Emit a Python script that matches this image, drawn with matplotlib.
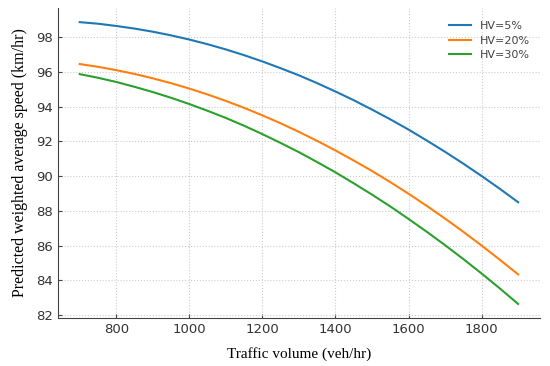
import matplotlib
matplotlib.use("Agg")
import matplotlib.pyplot as plt

# Volumen de tráfico (veh/hr)
volumen = [700, 750, 800, 850, 900, 950, 1000, 1050, 1100, 1150, 1200, 1250, 1300,
           1350, 1400, 1450, 1500, 1550, 1600, 1650, 1700, 1750, 1800, 1850, 1900]

# Velocidad media ponderada predicha (km/hr) para cada % de vehículos pesados
hv_5 = [98.86, 98.77, 98.64, 98.49, 98.31, 98.10, 97.86, 97.59, 97.29, 96.96, 96.60, 96.21, 95.80,
        95.35, 94.87, 94.37, 93.83, 93.27, 92.68, 92.05, 91.40, 90.72, 90.01, 89.27, 88.50]
hv_20 = [96.45, 96.29, 96.10, 95.88, 95.63, 95.35, 95.04, 94.70, 94.33, 93.93, 93.50, 93.04, 92.55,
         92.03, 91.48, 90.90, 90.30, 89.66, 88.99, 88.29, 87.56, 86.80, 86.01, 85.19, 84.35]
hv_30 = [95.87, 95.66, 95.42, 95.14, 94.84, 94.51, 94.15, 93.76, 93.35, 92.90, 92.42, 91.91, 91.38,
         90.81, 90.22, 89.59, 88.94, 88.26, 87.54, 86.80, 86.03, 85.23, 84.40, 83.54, 82.65]

etiquetas = ["HV=5%", "HV=20%", "HV=30%"]
colores = ["#1f77b4", "#ff7f0e", "#2ca02c"]

fig = plt.figure(figsize=(5.5, 3.66), dpi=100)
ax = fig.add_axes([0.105, 0.131, 0.877, 0.847])

for serie, etiqueta, color in zip([hv_5, hv_20, hv_30], etiquetas, colores):
    ax.plot(volumen, serie, color=color, linewidth=1.5, label=etiqueta)

ax.set_yticks([82, 84, 86, 88, 90, 92, 94, 96, 98])
ax.set_xticks([800, 1000, 1200, 1400, 1600, 1800])
ax.grid(True, linestyle=":", color="#cccccc", linewidth=0.8)
ax.tick_params(direction="in", length=3, colors="#444444", labelsize=9.5, labelcolor="#333333")
for lado in ["top", "right"]:
    ax.spines[lado].set_visible(False)
for lado in ["left", "bottom"]:
    ax.spines[lado].set_color("#444444")

ax.set_xlabel("Traffic volume (veh/hr)", family="Liberation Serif", fontsize=11, labelpad=8)
ax.set_ylabel("Predicted weighted average speed (km/hr)", family="Liberation Serif", fontsize=11.5, labelpad=6)

leg = ax.legend(loc="upper right", bbox_to_anchor=(1.0, 0.99), frameon=False,
                fontsize=8, labelspacing=0.4)
for t in leg.get_texts():
    t.set_color("#444444")

fig.savefig("out.png", dpi=100)
